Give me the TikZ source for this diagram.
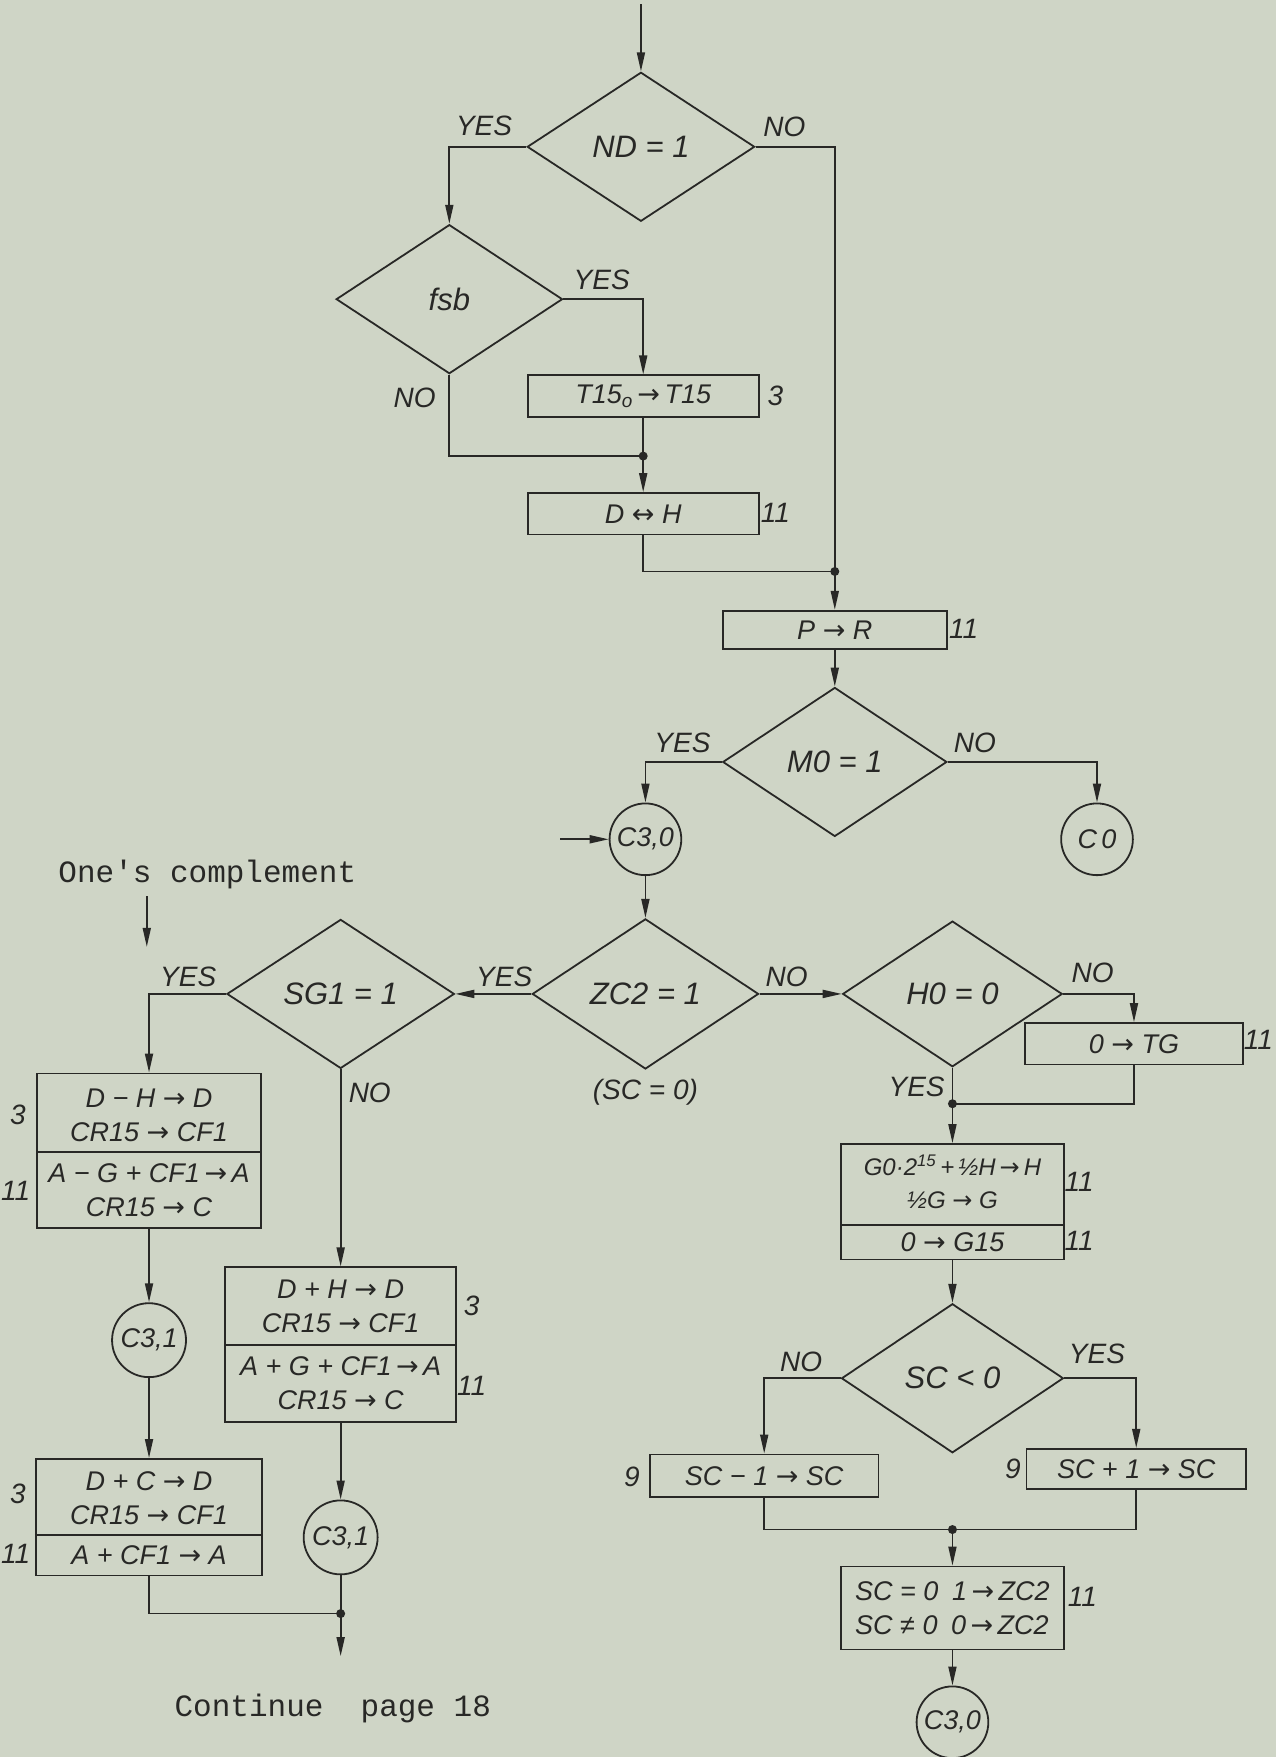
\documentclass[tikz,border=0pt]{standalone}
\usepackage{fontspec}
\setmainfont{Liberation Sans}
\newfontfamily\twfont{Liberation Mono}
\newfontfamily\arfont{DejaVu Sans}
\usetikzlibrary{shapes.geometric,arrows.meta}
\definecolor{paper}{RGB}{207,213,198}
\definecolor{ink}{RGB}{40,40,38}
\newcommand\uu{1.1203pt}
\newcommand\myfs[2]{\itshape\fontsize{#1}{#2}\selectfont}
\newcommand\ra{{\arfont\upshape →}}
\newcommand\lra{{\arfont\upshape ↔}}
\begin{document}
\begin{tikzpicture}[x=1.1203pt,y=-1.1203pt,line width=1.8pt,color=ink,
  dec/.style={diamond,draw,inner sep=0pt,font=\myfs{31}{36}},
  box/.style={rectangle,draw,inner sep=0pt,font=\myfs{27}{34},align=center},
  btxt/.style={inner sep=0pt,font=\myfs{27}{34},align=center},
  cir/.style={circle,draw,inner sep=0pt,minimum size={64*1.1203pt},font=\myfs{27}{30}},
  lab/.style={inner sep=0pt,font=\myfs{28}{30}},
  mono/.style={inner sep=0pt,font=\twfont\fontsize{31}{34}\selectfont},
  arr/.style={-{Triangle[length=19pt,width=8pt]}},
  jdot/.style={circle,fill,inner sep=0pt,minimum size=9pt}]
\fill[paper] (0,0) rectangle (1139,1568);
\useasboundingbox (0,0) rectangle (1139,1568);

% ---------- nodes ----------
\node[dec,minimum width={203*\uu},minimum height={133*\uu}] (nd) at (572,131) {ND = 1};
\node[dec,minimum width={202*\uu},minimum height={133*\uu}] (fsb) at (401,267) {fsb};
\node[box,minimum width={206*\uu},minimum height={37*\uu}] (t15) at (574,353.5) {T15\textsubscript{o}\,\ra\,T15};
\node[box,minimum width={206*\uu},minimum height={37*\uu}] (dh) at (574,458.5) {D \lra\ H};
\node[box,minimum width={200*\uu},minimum height={34*\uu}] (pr) at (745,562) {P \ra\ R};
\node[dec,minimum width={200*\uu},minimum height={133*\uu}] (mo) at (745,680) {M0 = 1};
\node[cir] (c30a) at (576,749) {C3,0};
\node[cir] (c0) at (979,749) {C\,0};
\node[dec,minimum width={202*\uu},minimum height={134*\uu}] (zc2) at (576,887) {ZC2 = 1};
\node[dec,minimum width={203*\uu},minimum height={133*\uu}] (sg1) at (304,887) {SG1 = 1};
\node[dec,minimum width={196*\uu},minimum height={130*\uu}] (ho) at (850,887) {H0 = 0};
\node[box,minimum width={194*\uu},minimum height={37*\uu}] (tg) at (1012,931.5) {0 \ra\ TG};

\node[box,minimum width={200*\uu},minimum height={138*\uu}] (l1) at (133,1027) {};
\node[btxt] (l1a) at (133,995) {D − H \ra\ D\\CR15 \ra\ CF1};
\node[btxt] (l1b) at (133,1062) {A − G + CF1\,\ra\,A\\CR15 \ra\ C};
\node[cir,minimum size={66*\uu}] (c31a) at (133,1196) {C3,1};
\node[box,minimum width={202*\uu},minimum height={104*\uu}] (l2) at (133,1354) {};
\node[btxt] (l2a) at (133,1337) {D + C \ra\ D\\CR15 \ra\ CF1};
\node[btxt] (l2b) at (133,1388) {A + CF1 \ra\ A};

\node[box,minimum width={206*\uu},minimum height={138*\uu}] (m) at (304,1200) {};
\node[btxt] (ma) at (304,1166) {D + H \ra\ D\\CR15 \ra\ CF1};
\node[btxt] (mb) at (304,1234) {A + G + CF1\,\ra\,A\\CR15 \ra\ C};
\node[cir,minimum size={66*\uu}] (c31b) at (304,1372) {C3,1};

\node[box,minimum width={199*\uu},minimum height={103*\uu}] (go) at (850,1072.5) {};
\node[btxt,font=\myfs{24}{33}] (goa) at (850,1055) {G0·2\textsuperscript{15}\,+\,½H\,\ra\,H\\½G \ra\ G};
\node[btxt] (gob) at (850,1108.5) {0 \ra\ G15};
\node[dec,minimum width={198*\uu},minimum height={133*\uu}] (sc) at (850,1230) {SC < 0};
\node[box,minimum width={204*\uu},minimum height={38*\uu}] (scm) at (682,1317) {SC − 1 \ra\ SC};
\node[box,minimum width={196*\uu},minimum height={36*\uu}] (scp) at (1014,1311) {SC + 1 \ra\ SC};
\node[box,minimum width={199*\uu},minimum height={74*\uu},align=left] (zcb) at (850,1435) {SC = 0\enspace 1\,\ra\,ZC2\\SC ≠ 0\enspace 0\,\ra\,ZC2};
\node[cir] (c30b) at (850,1537) {C3,0};

% junctions and free ends
\node[jdot] (j1) at (574,407) {};
\node[jdot] (j2) at (745,510) {};
\node[jdot] (j3) at (304,1440) {};
\node[jdot] (j4) at (850,985) {};
\node[jdot] (j5) at (850,1365) {};
\coordinate (top) at (572,4);
\coordinate (in30) at (500,749);
\coordinate (out) at (304,1478);
\coordinate (oc1) at (131,800);
\coordinate (oc2) at (131,845);

% dividers
\coordinate (l1d) at (0,1028);
\coordinate (l2d) at (0,1370);
\coordinate (md) at (0,1200);
\coordinate (god) at (0,1093);
\draw (l1.west |- l1d) -- (l1.east |- l1d);
\draw (l2.west |- l2d) -- (l2.east |- l2d);
\draw (m.west |- md) -- (m.east |- md);
\draw (go.west |- god) -- (go.east |- god);

% ---------- connectors ----------
\draw[arr] (top) -- (nd.north);
\draw[arr] (nd.west) -| (fsb.north);
\draw (nd.east) -| (j2.center);
\draw[arr] (fsb.east) -| (t15.north);
\draw (fsb.south) |- (j1.center);
\draw (t15.south) -- (j1.center);
\draw[arr] (j1.center) -- (dh.north);
\draw (dh.south) |- (j2.center);
\draw[arr] (j2.center) -- (pr.north);
\draw[arr] (pr.south) -- (mo.north);
\draw[arr] (mo.west) -| (c30a.north);
\draw[arr] (mo.east) -| (c0.north);
\draw[arr] (in30) -- (c30a.west);
\draw[arr] (c30a.south) -- (zc2.north);
\draw[arr] (zc2.west) -- (sg1.east);
\draw[arr] (zc2.east) -- (ho.west);
\draw[arr] (sg1.west) -| (l1.north);
\draw[arr] (sg1.south) -- (m.north);
\draw[arr] (l1.south) -- (c31a.north);
\draw[arr] (c31a.south) -- (l2.north);
\draw (l2.south) |- (j3.center);
\draw[arr] (m.south) -- (c31b.north);
\draw (c31b.south) -- (j3.center);
\draw[arr] (j3.center) -- (out);
\draw[arr] (oc1) -- (oc2);
\draw[arr] (ho.east) -| (tg.north);
\draw (ho.south) -- (j4.center);
\draw (tg.south) |- (j4.center);
\draw[arr] (j4.center) -- (go.north);
\draw[arr] (go.south) -- (sc.north);
\draw[arr] (sc.west) -| (scm.north);
\draw[arr] (sc.east) -| (scp.north);
\draw (scm.south) |- (j5.center);
\draw (scp.south) |- (j5.center);
\draw[arr] (j5.center) -- (zcb.north);
\draw[arr] (zcb.south) -- (c30b.north);

% ---------- labels ----------
\node[lab] (y1) at (432,112) {YES};
\node[lab] (n1) at (700,113) {NO};
\node[lab] (y2) at (537,250) {YES};
\node[lab] (n2) at (370,355) {NO};
\node[lab] (k1) at (692,353) {3};
\node[lab] (k2) at (692,458) {11};
\node[lab] (k3) at (860,561) {11};
\node[lab] (y3) at (609,663) {YES};
\node[lab] (n3) at (870,663) {NO};
\node[lab] (y4) at (450,872) {YES};
\node[lab] (n4) at (702,872) {NO};
\node[lab] (sc0) at (576,975) {(SC = 0)};
\node[lab] (y5) at (168,872) {YES};
\node[lab] (n5) at (330,975) {NO};
\node[lab] (n6) at (975,868) {NO};
\node[lab] (y6) at (818,970) {YES};
\node[lab] (k4) at (1123,928) {11};
\node[lab] (k5) at (16,995) {3};
\node[lab] (k6) at (14,1063) {11};
\node[lab] (k7) at (421,1165) {3};
\node[lab] (k8) at (421,1237) {11};
\node[lab] (k9) at (16,1333) {3};
\node[lab] (k10) at (14,1387) {11};
\node[lab] (k11) at (963,1055) {11};
\node[lab] (k12) at (963,1107) {11};
\node[lab] (n7) at (715,1215) {NO};
\node[lab] (y7) at (979,1208) {YES};
\node[lab] (k13) at (564,1318) {9};
\node[lab] (k14) at (904,1311) {9};
\node[lab] (k15) at (966,1425) {11};
\node[mono] (oc) at (185,780) {One's complement};
\node[mono] (cont) at (297,1525) {Continue\ \ page 18};
\end{tikzpicture}
\end{document}
